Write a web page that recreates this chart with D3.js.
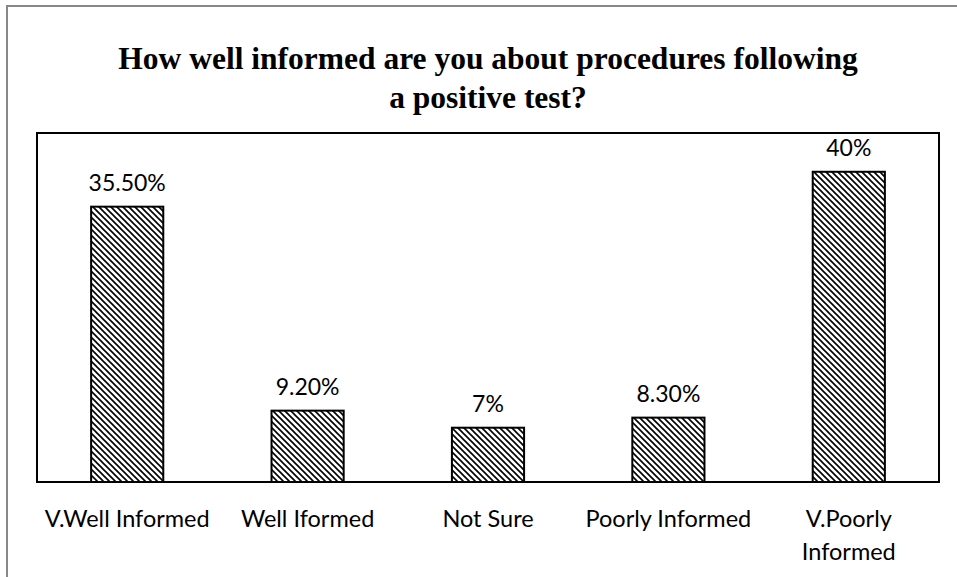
<!DOCTYPE html>
<html>
<head>
<meta charset="utf-8">
<script src="https://cdn.jsdelivr.net/npm/d3@7"></script>
<style>
  html, body { margin: 0; padding: 0; background: #fff; }
  svg { display: block; }
</style>
</head>
<body>
<svg id="chart" width="957" height="577"></svg>
<script>
const categories = ["V.Well Informed", "Well Iformed", "Not Sure", "Poorly Informed", "V.Poorly Informed"];
const values = [35.5, 9.2, 7, 8.3, 40];
const valueLabels = ["35.50%", "9.20%", "7%", "8.30%", "40%"];
const titleLines = ["How well informed are you about procedures following", "a positive test?"];

const svg = d3.select("#chart");
const W = 957, H = 577;
const plot = { left: 37, right: 939, top: 133, bottom: 482 };

// outer frame (left + top only)
svg.append("path")
  .attr("d", `M7,${H} L7,6 L${W},6`)
  .attr("fill", "none").attr("stroke", "#888").attr("stroke-width", 2);

// hatch pattern
const defs = svg.append("defs");
const pat = defs.append("pattern")
  .attr("id", "hatch").attr("patternUnits", "userSpaceOnUse")
  .attr("width", 6).attr("height", 6);
pat.append("rect").attr("width", 6).attr("height", 6).attr("fill", "#fff");
pat.append("path")
  .attr("d", "M-1.5,-1.5 L7.5,7.5 M4.5,-1.5 L7.5,1.5 M-1.5,4.5 L1.5,7.5")
  .attr("stroke", "#000").attr("stroke-width", 1.6);

// title
const title = svg.append("text")
  .attr("text-anchor", "middle")
  .attr("font-family", "'Liberation Serif', 'Times New Roman', serif")
  .attr("font-weight", "bold").attr("font-size", 31.5).attr("fill", "#000");
titleLines.forEach((t, i) => {
  title.append("tspan").attr("x", 488).attr("y", 69 + i * 39).text(t);
});

const x = d3.scaleBand().domain(categories)
  .range([plot.left, plot.right]).paddingInner(0.6).paddingOuter(0.3);
const y = d3.scaleLinear().domain([0, 45]).range([plot.bottom, plot.top]);

// plot box
svg.append("rect")
  .attr("x", plot.left).attr("y", plot.top)
  .attr("width", plot.right - plot.left).attr("height", plot.bottom - plot.top)
  .attr("fill", "none").attr("stroke", "#000").attr("stroke-width", 2);

// bars
svg.selectAll("rect.bar").data(values).join("rect")
  .attr("class", "bar")
  .attr("x", (d, i) => x(categories[i]))
  .attr("y", d => y(d))
  .attr("width", x.bandwidth())
  .attr("height", d => y(0) - y(d))
  .attr("fill", "url(#hatch)")
  .attr("stroke", "#000").attr("stroke-width", 2);

// value labels
svg.selectAll("text.val").data(values).join("text")
  .attr("class", "val")
  .attr("x", (d, i) => x(categories[i]) + x.bandwidth() / 2)
  .attr("y", d => y(d) - 16)
  .attr("text-anchor", "middle")
  .attr("font-family", "Lato, 'Open Sans', sans-serif")
  .attr("font-size", 23).attr("fill", "#000")
  .text((d, i) => valueLabels[i]);

// x axis labels via axis
const xAxis = svg.append("g")
  .attr("transform", `translate(0,${plot.bottom})`)
  .call(d3.axisBottom(x).tickSize(0).tickPadding(0).tickFormat(() => ""));
xAxis.select(".domain").remove();

const wrapMap = { "V.Poorly Informed": ["V.Poorly", "Informed"] };
xAxis.selectAll(".tick").each(function(d) {
  const g = d3.select(this);
  g.select("text").remove();
  const lines = wrapMap[d] || [d];
  const t = g.append("text")
    .attr("text-anchor", "middle")
    .attr("font-family", "Lato, 'Open Sans', sans-serif")
    .attr("font-size", 23.5).attr("fill", "#000");
  lines.forEach((l, i) => t.append("tspan").attr("x", 0).attr("y", 45 + i * 33).text(l));
});
</script>
</body>
</html>
